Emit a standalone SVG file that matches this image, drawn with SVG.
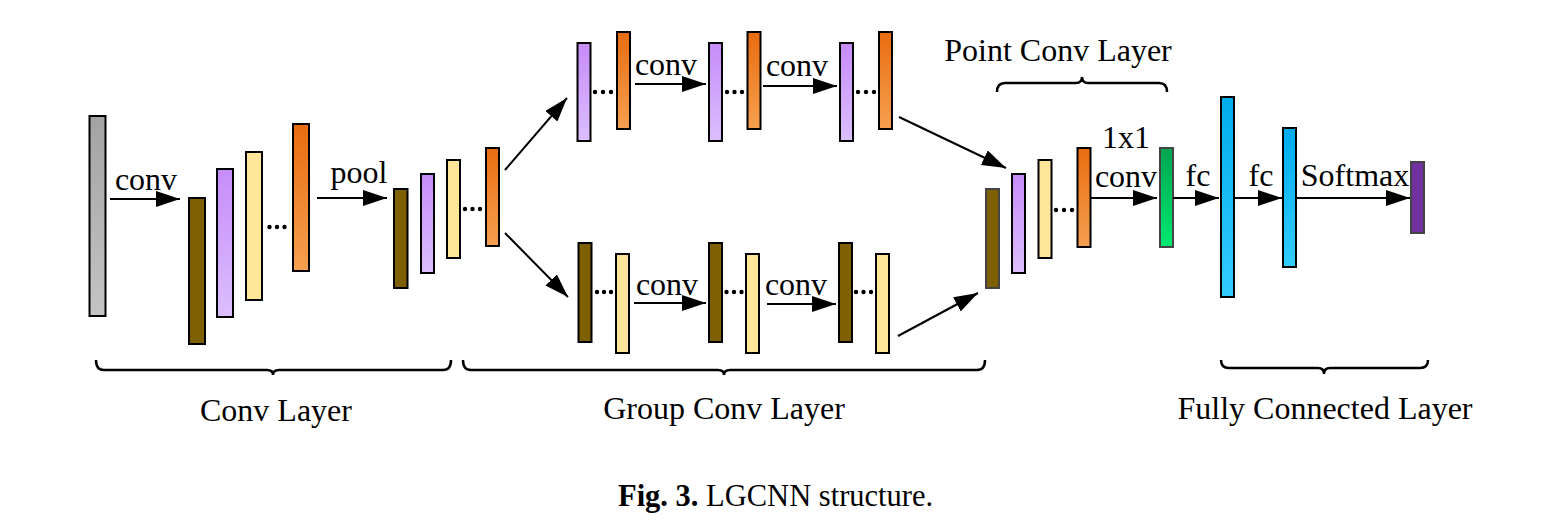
<svg xmlns="http://www.w3.org/2000/svg" width="1549" height="520" viewBox="0 0 1549 520">
<defs>
<linearGradient id="gGray" x1="0" y1="0" x2="0" y2="1"><stop offset="0" stop-color="#a3a3a3"/><stop offset="1" stop-color="#c4c4c4"/></linearGradient>
<linearGradient id="gPurple" x1="0" y1="0" x2="0" y2="1"><stop offset="0" stop-color="#c68cfa"/><stop offset="1" stop-color="#dcbefd"/></linearGradient>
<linearGradient id="gOrange" x1="0" y1="0" x2="0" y2="1"><stop offset="0" stop-color="#e86c10"/><stop offset="1" stop-color="#f6a050"/></linearGradient>
<linearGradient id="gGreen" x1="0" y1="0" x2="0" y2="1"><stop offset="0" stop-color="#00a550"/><stop offset="1" stop-color="#00ea70"/></linearGradient>
<linearGradient id="gBlue" x1="0" y1="0" x2="0" y2="1"><stop offset="0" stop-color="#00acec"/><stop offset="1" stop-color="#33ccff"/></linearGradient>
<marker id="arr" markerUnits="userSpaceOnUse" markerWidth="25" markerHeight="17" refX="24" refY="8" orient="auto">
<path d="M0,0 L24,8 L0,16 z" fill="#000"/>
</marker>
<style>
.bar{stroke:#000;stroke-width:2}
.barg{stroke:#444;stroke-width:2}
.gray{fill:url(#gGray)}
.brown{fill:#7f6000}
.purple{fill:url(#gPurple)}
.yellow{fill:#ffe699}
.orange{fill:url(#gOrange)}
.green{fill:url(#gGreen)}
.blue{fill:url(#gBlue)}
.dpurple{fill:#7030a0}
.lbl{font-family:"Liberation Serif","Times New Roman",serif;font-size:32px;fill:#000;text-anchor:middle}
.con{stroke:#000;stroke-width:2;fill:none;marker-end:url(#arr)}
.brace{stroke:#000;stroke-width:2.5;fill:none}
.dot{fill:#000}
</style>
</defs>
<rect width="1549" height="520" fill="#fff"/>

<g id="input"><rect class="bar gray" x="89.5" y="116" width="16" height="200"/></g>
<g id="conv-stack">
<rect class="bar brown" x="189" y="198" width="16" height="146"/>
<rect class="bar purple" x="217" y="169" width="16" height="148"/>
<rect class="bar yellow" x="246" y="152" width="16" height="148"/>
<circle class="dot" cx="269.5" cy="227" r="2.2"/><circle class="dot" cx="277" cy="227" r="2.2"/><circle class="dot" cx="284.5" cy="227" r="2.2"/>
<rect class="bar orange" x="293" y="124" width="16" height="147"/>
</g>
<g id="pool-stack">
<rect class="bar brown" x="394" y="189" width="13.5" height="99"/>
<rect class="bar purple" x="421" y="174" width="13" height="99"/>
<rect class="bar yellow" x="447" y="160" width="13" height="98"/>
<circle class="dot" cx="465" cy="209" r="2.2"/><circle class="dot" cx="472.5" cy="209" r="2.2"/><circle class="dot" cx="480" cy="209" r="2.2"/>
<rect class="bar orange" x="486" y="148" width="13" height="98"/>
</g>

<g id="top-group1">
<rect class="bar purple" x="577.5" y="43" width="13" height="98"/>
<circle class="dot" cx="595" cy="92" r="2.2"/><circle class="dot" cx="603" cy="92" r="2.2"/><circle class="dot" cx="611" cy="92" r="2.2"/>
<rect class="bar orange" x="617" y="32" width="13" height="97"/>
</g>
<g id="top-group2">
<rect class="bar purple" x="709" y="43" width="13" height="98"/>
<circle class="dot" cx="727" cy="92" r="2.2"/><circle class="dot" cx="734.5" cy="92" r="2.2"/><circle class="dot" cx="742" cy="92" r="2.2"/>
<rect class="bar orange" x="747.5" y="32" width="13" height="97"/>
</g>
<g id="top-group3">
<rect class="bar purple" x="840" y="43" width="13" height="98"/>
<circle class="dot" cx="858" cy="92" r="2.2"/><circle class="dot" cx="866" cy="92" r="2.2"/><circle class="dot" cx="874" cy="92" r="2.2"/>
<rect class="bar orange" x="879" y="32" width="13" height="97"/>
</g>

<g id="bottom-group1">
<rect class="bar brown" x="578.5" y="243" width="13" height="99"/>
<circle class="dot" cx="597" cy="292" r="2.2"/><circle class="dot" cx="604" cy="292" r="2.2"/><circle class="dot" cx="611" cy="292" r="2.2"/>
<rect class="bar yellow" x="616" y="254" width="13" height="99"/>
</g>
<g id="bottom-group2">
<rect class="bar brown" x="709" y="243" width="13" height="99"/>
<circle class="dot" cx="726.5" cy="292" r="2.2"/><circle class="dot" cx="734" cy="292" r="2.2"/><circle class="dot" cx="741.5" cy="292" r="2.2"/>
<rect class="bar yellow" x="746" y="254" width="13" height="99"/>
</g>
<g id="bottom-group3">
<rect class="bar brown" x="839" y="243" width="13" height="99"/>
<circle class="dot" cx="856" cy="292" r="2.2"/><circle class="dot" cx="863.5" cy="292" r="2.2"/><circle class="dot" cx="871" cy="292" r="2.2"/>
<rect class="bar yellow" x="876" y="254" width="13" height="99"/>
</g>

<g id="point-stack">
<rect class="barg brown" x="986" y="189" width="13" height="99"/>
<rect class="bar purple" x="1012" y="174" width="13" height="99"/>
<rect class="bar yellow" x="1038.5" y="160" width="13" height="98"/>
<circle class="dot" cx="1056" cy="210" r="2.2"/><circle class="dot" cx="1064" cy="210" r="2.2"/><circle class="dot" cx="1072" cy="210" r="2.2"/>
<rect class="bar orange" x="1077.5" y="148" width="13" height="99"/>
</g>
<g id="pointconv-out"><rect class="barg green" x="1160" y="148" width="13" height="99"/></g>
<g id="fc1"><rect class="bar blue" x="1221" y="97" width="13" height="200"/></g>
<g id="fc2"><rect class="bar blue" x="1283" y="128" width="13" height="139"/></g>
<g id="softmax-out"><rect class="barg dpurple" x="1411" y="162" width="13" height="71"/></g>

<g id="connectors">
<line class="con" x1="110" y1="199" x2="180" y2="199"/>
<line class="con" x1="317" y1="198" x2="387" y2="198"/>
<line class="con" x1="505" y1="170" x2="567" y2="98"/>
<line class="con" x1="505" y1="233" x2="568" y2="297"/>
<line class="con" x1="635" y1="84" x2="706" y2="84"/>
<line class="con" x1="763" y1="86" x2="837" y2="86"/>
<line class="con" x1="634" y1="303" x2="706" y2="303"/>
<line class="con" x1="767" y1="304" x2="836" y2="304"/>
<line class="con" x1="899" y1="117" x2="1006" y2="168"/>
<line class="con" x1="898" y1="336" x2="978" y2="293"/>
<line class="con" x1="1091" y1="198" x2="1157" y2="198"/>
<line class="con" x1="1173" y1="198" x2="1219" y2="198"/>
<line class="con" x1="1235" y1="198" x2="1282" y2="198"/>
<line class="con" x1="1297" y1="198" x2="1410" y2="198"/>
</g>

<g id="labels">
<text class="lbl" x="146" y="190">conv</text>
<text class="lbl" x="359" y="183">pool</text>
<text class="lbl" x="666" y="75">conv</text>
<text class="lbl" x="797" y="76">conv</text>
<text class="lbl" x="667" y="295">conv</text>
<text class="lbl" x="796" y="295">conv</text>
<text class="lbl" x="1126" y="148">1x1</text>
<text class="lbl" x="1126" y="187">conv</text>
<text class="lbl" x="1198" y="186">fc</text>
<text class="lbl" x="1261" y="186">fc</text>
<text class="lbl" x="1355" y="186">Softmax</text>
</g>

<g id="brace-conv">
<path class="brace" d="M96,360 Q96,370 104,370 H267 Q273,370 273,375 Q273,370 279,370 H443 Q451,370 451,360"/>
<text class="lbl" x="276" y="421">Conv Layer</text>
</g>
<g id="brace-group">
<path class="brace" d="M463,360 Q463,370 471,370 H718 Q724,370 724,375 Q724,370 730,370 H977 Q985,370 985,360"/>
<text class="lbl" x="724" y="419">Group Conv Layer</text>
</g>
<g id="brace-point">
<path class="brace" d="M997,92 Q997,83 1005,83 H1076 Q1082,83 1082,77 Q1082,83 1088,83 H1159 Q1167,83 1167,92"/>
<text class="lbl" x="1058" y="61">Point Conv Layer</text>
</g>
<g id="brace-fc">
<path class="brace" d="M1221,360 Q1221,368 1229,368 H1318 Q1324,368 1324,374 Q1324,368 1330,368 H1420 Q1428,368 1428,360"/>
<text class="lbl" x="1325" y="419">Fully Connected Layer</text>
</g>

<g id="caption">
<text x="618" y="506" font-family="Liberation Serif, serif" font-size="30.5" fill="#000"><tspan font-weight="bold">Fig. 3.</tspan> LGCNN structure.</text>
</g>
</svg>
